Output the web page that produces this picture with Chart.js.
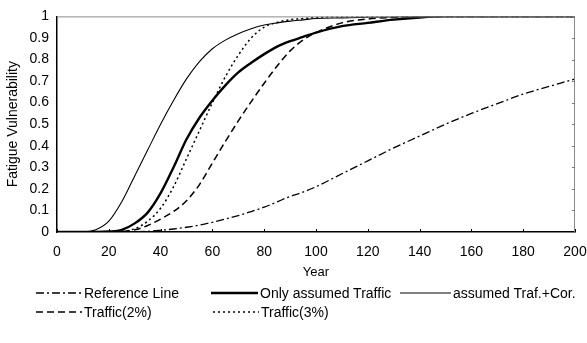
<!DOCTYPE html>
<html><head><meta charset="utf-8">
<script src="https://cdn.jsdelivr.net/npm/chart.js@4.4.1/dist/chart.umd.min.js"></script>
<style>
html,body{margin:0;padding:0;background:#fff;}
#wrap{position:relative;width:587px;height:343px;overflow:hidden;}
#c{position:absolute;left:0;top:0;}
.lg{position:absolute;font:14px "Liberation Sans",Arial,sans-serif;color:#000;white-space:nowrap;display:flex;align-items:center;height:18px;}
.lg svg{display:block;margin-right:2px;}
</style></head><body>
<div id="wrap"><canvas id="c" width="587" height="343"></canvas></div>
<script>
// ---- data ----
const years = [0,10,15,20,25,30,35,40,45,50,55,60,65,70,75,80,85,90,95,100,110,120,130,140,150,160,170,180,190,200];
const referenceLine   = [0,0,0,0,0,0.001,0.003,0.008,0.014,0.022,0.032,0.045,0.06,0.076,0.095,0.115,0.14,0.165,0.185,0.21,0.27,0.33,0.39,0.445,0.5,0.55,0.595,0.64,0.675,0.71];
const onlyTraffic     = [0,0,0,0.002,0.01,0.04,0.09,0.18,0.3,0.43,0.53,0.61,0.68,0.74,0.785,0.825,0.86,0.885,0.905,0.925,0.955,0.97,0.985,0.995,1,1,1,1,1,1];
const trafficCor      = [0,0,0.01,0.05,0.14,0.26,0.38,0.5,0.61,0.71,0.79,0.85,0.89,0.92,0.943,0.96,0.97,0.978,0.984,0.99,0.993,0.996,0.998,1,1,1,1,1,1,1];
const traffic2        = [0,0,0,0,0.002,0.01,0.03,0.06,0.095,0.145,0.22,0.32,0.42,0.515,0.605,0.69,0.77,0.84,0.89,0.925,0.97,0.988,0.995,1,1,1,1,1,1,1];
const traffic3        = [0,0,0,0,0.003,0.015,0.05,0.11,0.21,0.34,0.47,0.6,0.72,0.82,0.9,0.95,0.972,0.985,0.99,0.995,0.998,1,1,1,1,1,1,1,1,1];
const seriesNames = ["Reference Line","Only assumed Traffic","assumed Traf.+Cor.","Traffic(2%)","Traffic(3%)"];
const xTickLabels = ["0","20","40","60","80","100","120","140","160","180","200"];
const yTickLabels = ["0","0.1","0.2","0.3","0.4","0.5","0.6","0.7","0.8","0.9","1"];
const xTitle = "Year";
const yTitle = "Fatigue Vulnerability";

// ---- styles ----
const FONT = '"Liberation Sans", Arial, sans-serif';
const styles = [
  {borderWidth:1.3, borderDash:[8,3,2,3]},
  {borderWidth:2.4, borderDash:[]},
  {borderWidth:1.1, borderDash:[]},
  {borderWidth:1.5, borderDash:[7,4]},
  {borderWidth:1.5, borderDash:[2,3]}
];
const seriesData = [referenceLine, onlyTraffic, trafficCor, traffic2, traffic3];
const datasets = seriesData.map((arr,i)=>({
  label: seriesNames[i],
  data: years.map((y,k)=>({x:y, y:arr[k]})),
  borderColor:'#000', backgroundColor:'#000',
  borderWidth: styles[i].borderWidth, borderDash: styles[i].borderDash,
  pointRadius:0, fill:false, cubicInterpolationMode:'monotone'
}));

const frame = {
  id:'frame',
  afterDraw(chart){
    const {ctx, chartArea:a, scales} = chart;
    ctx.save();
    ctx.strokeStyle = '#8a8a8a'; ctx.lineWidth = 1; ctx.setLineDash([]);
    ctx.beginPath();
    ctx.moveTo(a.left, a.top+0.5); ctx.lineTo(a.right, a.top+0.5);
    ctx.moveTo(a.right-0.5, a.top); ctx.lineTo(a.right-0.5, a.bottom);
    ctx.stroke();
    ctx.strokeStyle = '#000';
    ctx.beginPath();
    scales.x.ticks.forEach(t=>{ const px = Math.round(scales.x.getPixelForValue(t.value))+0.5; ctx.moveTo(px,a.bottom); ctx.lineTo(px,a.bottom-3); });
    ctx.stroke();
    ctx.strokeStyle = '#777';
    ctx.beginPath();
    scales.y.ticks.forEach(t=>{ const py = Math.round(scales.y.getPixelForValue(t.value))+0.5; ctx.moveTo(a.right,py); ctx.lineTo(a.right-3,py); });
    ctx.stroke();
    ctx.restore();
  }
};

new Chart(document.getElementById('c'), {
  type:'line',
  data:{datasets},
  options:{
    responsive:false, animation:false, devicePixelRatio:1,
    layout:{padding:{top:15,right:0,bottom:61,left:0}},
    plugins:{legend:{display:false}, tooltip:{enabled:false}},
    scales:{
      x:{type:'linear', min:0, max:200,
        ticks:{stepSize:20, color:'#000', padding:12, maxRotation:0, font:{family:FONT,size:14},
          callback:(v,i)=>xTickLabels[i]},
        grid:{display:false, drawTicks:false},
        border:{display:true,color:'#000',width:1.5},
        title:{display:true,text:xTitle,color:'#000',font:{family:FONT,size:13},padding:{top:2,bottom:2}},
        afterFit:s=>{s.height=50; s.paddingRight=12;}
      },
      y:{min:0, max:1,
        ticks:{stepSize:0.1, color:'#000', padding:8, font:{family:FONT,size:14},
          callback:(v,i)=>yTickLabels[i]},
        grid:{display:false, drawTicks:false},
        border:{display:true,color:'#000',width:1.5},
        title:{display:true,text:yTitle,color:'#000',font:{family:FONT,size:14},padding:{top:5,bottom:0}},
        afterFit:s=>{s.width=57;}
      }
    }
  },
  plugins:[frame]
});

// ---- legend (HTML) ----
const legendPos = [
  {x:36, y:284, w:46},
  {x:211, y:284, w:47},
  {x:400, y:284, w:51},
  {x:36, y:303, w:46},
  {x:213, y:303, w:46}
];
const wrap = document.getElementById('wrap');
seriesNames.forEach((name,i)=>{
  const p = legendPos[i];
  const d = document.createElement('div');
  d.className='lg'; d.style.left=p.x+'px'; d.style.top=p.y+'px';
  const ns='http://www.w3.org/2000/svg';
  const svg=document.createElementNS(ns,'svg');
  svg.setAttribute('width',p.w); svg.setAttribute('height',6);
  const ln=document.createElementNS(ns,'line');
  ln.setAttribute('x1',0); ln.setAttribute('x2',p.w); ln.setAttribute('y1',3); ln.setAttribute('y2',3);
  ln.setAttribute('stroke','#000'); ln.setAttribute('stroke-width',styles[i].borderWidth);
  if(styles[i].borderDash.length) ln.setAttribute('stroke-dasharray',styles[i].borderDash.join(' '));
  svg.appendChild(ln);
  d.appendChild(svg);
  d.appendChild(document.createTextNode(name));
  wrap.appendChild(d);
});
</script>
</body></html>
